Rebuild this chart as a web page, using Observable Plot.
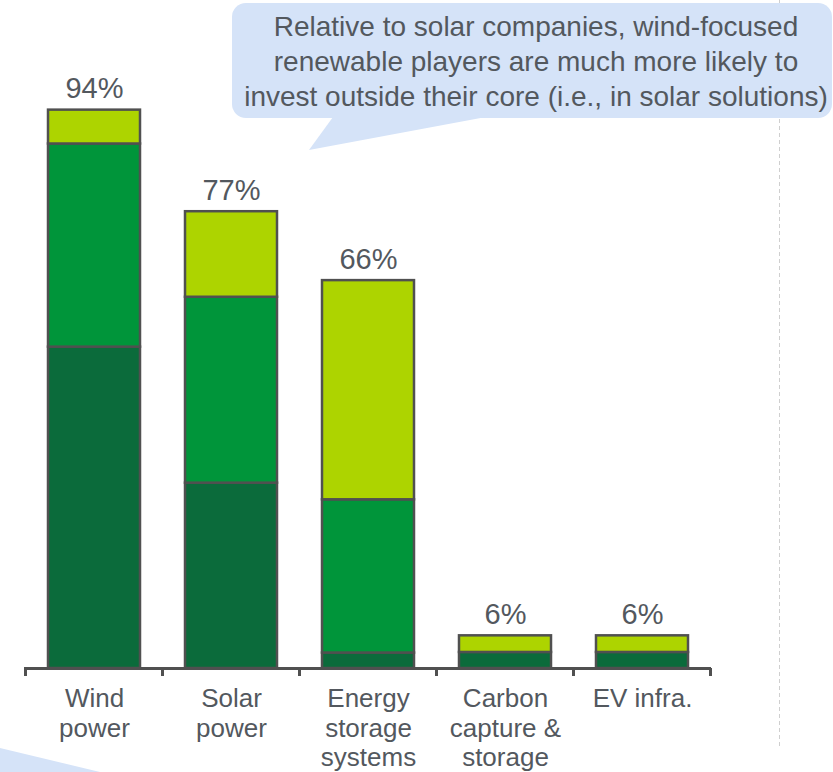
<!DOCTYPE html>
<html>
<head>
<meta charset="utf-8">
<script src="https://cdn.jsdelivr.net/npm/d3@7"></script>
<script src="https://cdn.jsdelivr.net/npm/@observablehq/plot@0.6"></script>
<style>
  html, body { margin: 0; padding: 0; background: #fff; }
  #wrap { position: relative; width: 833px; height: 772px; overflow: hidden; font-family: Arial, "Liberation Sans", sans-serif; }
  #wrap svg.plot-main { position: absolute; left: 0; top: 0; }
  #deco { position: absolute; left: 0; top: 0; pointer-events: none; }
  #callout { position: absolute; left: 236px; top: 9px; width: 600px; text-align: center;
    font-size: 28px; line-height: 35px; color: #53585e; }
</style>
</head>
<body>
<div id="wrap"></div>
<script>
// ---- data ----
const categories = ["Wind power", "Solar power", "Energy storage systems", "Carbon capture & storage", "EV infra."];
const tickLabels = ["Wind\npower", "Solar\npower", "Energy\nstorage\nsystems", "Carbon\ncapture &\nstorage", "EV infra."];
const segments = ["dark", "mid", "light"];
const darkValues  = [54.1, 31.2, 2.6, 2.7, 2.7];
const midValues   = [34.2, 31.3, 25.8, 0, 0];
const lightValues = [5.7, 14.4, 36.9, 2.8, 2.8];
const totals = [94, 77, 66, 6, 6];
const segmentColors = ["#0b6b3b", "#00953a", "#add400"];
const calloutLines = [
  "Relative to solar companies, wind-focused",
  "renewable players are much more likely to",
  "invest outside their core (i.e., in solar solutions)"
];

// ---- build tables ----
const seriesBySeg = {dark: darkValues, mid: midValues, light: lightValues};
const rows = [];
categories.forEach((c, i) => {
  segments.forEach(s => {
    const v = seriesBySeg[s][i];
    if (v > 0) rows.push({cat: c, seg: s, value: v});
  });
});
const tops = categories.map((c, i) => ({
  cat: c,
  top: darkValues[i] + midValues[i] + lightValues[i],
  label: totals[i] + "%"
}));

const textColor = "#53585e";
const strokeColor = "#505050";

function boundaryTicks(index, scales) {
  const x = scales.x;
  const dom = x.domain();
  let step, bw;
  if (typeof x.bandwidth === "function") { bw = x.bandwidth(); step = x.step(); }
  else { step = x(dom[1]) - x(dom[0]); bw = step * 0.67; }
  const gap = (step - bw) / 2;
  const bounds = dom.map(d => x(d) - gap);
  bounds.push(x(dom[dom.length - 1]) + bw + gap);
  const y0 = scales.y(0);
  const g = d3.create("svg:g");
  g.selectAll("line").data(bounds).join("line")
    .attr("x1", d => d).attr("x2", d => d)
    .attr("y1", y0).attr("y2", y0 + 8)
    .attr("stroke", strokeColor).attr("stroke-width", 3);
  return g.node();
}

const chart = Plot.plot({
  width: 833,
  height: 772,
  marginTop: 74,
  marginBottom: 104,
  marginLeft: 24,
  marginRight: 122,
  style: {background: "transparent", fontFamily: "Arial, 'Liberation Sans', sans-serif"},
  x: {domain: categories, paddingInner: 0.33, paddingOuter: 0.165, axis: null},
  y: {domain: [0, 100], axis: null},
  color: {domain: segments, range: segmentColors},
  marks: [
    Plot.barY(rows, {x: "cat", y: "value", fill: "seg", stroke: strokeColor, strokeWidth: 2.5}),
    Plot.ruleY([0], {stroke: strokeColor, strokeWidth: 3}),
    boundaryTicks,
    Plot.text(tops, {x: "cat", y: "top", text: "label", dy: -21, fontSize: 29, fill: textColor}),
    Plot.text(categories, {x: d => d, frameAnchor: "bottom", text: (d, i) => tickLabels[i],
      lineAnchor: "top", dy: 18, fontSize: 26, lineHeight: 1.135, fill: textColor})
  ]
});
chart.classList.add("plot-main");
const wrap = document.getElementById("wrap");
wrap.appendChild(chart);

// ---- decorations (callout bubble, dashed separator, partial shape) ----
const deco = d3.select(wrap).append("svg").attr("id", "deco").attr("width", 833).attr("height", 772);
deco.append("line").attr("x1", 779.5).attr("x2", 779.5).attr("y1", 0).attr("y2", 746)
  .attr("stroke", "#cfcfcf").attr("stroke-width", 1).attr("stroke-dasharray", "4,3");
const bubbleFill = "#d5e3f8";
deco.append("rect").attr("x", 232).attr("y", 3).attr("width", 600).attr("height", 115)
  .attr("rx", 14).attr("fill", bubbleFill);
deco.append("path").attr("d", "M333,117 L309,150 L486,117 Z").attr("fill", bubbleFill);
deco.append("path").attr("d", "M0,748 L100,772 L0,772 Z").attr("fill", bubbleFill);

const callout = document.createElement("div");
callout.id = "callout";
calloutLines.forEach(t => { const d = document.createElement("div"); d.textContent = t; callout.appendChild(d); });
wrap.appendChild(callout);
</script>
</body>
</html>
